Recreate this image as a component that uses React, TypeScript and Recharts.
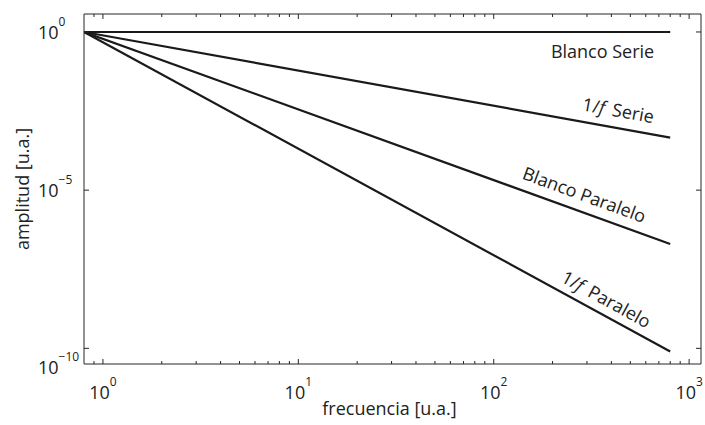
import type React from 'react';
import { LineChart, Line, XAxis, YAxis } from 'recharts';

// frequency endpoints (log-log straight lines)
const frecuencia = [0.8, 800];
const blancoSerie = [1, 1];
const unoFSerie = [1, 4.6e-4];
const blancoParalelo = [1, 2.0e-7];
const unoFParalelo = [1, 8e-11];

const seriesNames = ['Blanco Serie', '1/f Serie', 'Blanco Paralelo', '1/f Paralelo'];

const xMajorTicks = [1, 10, 100, 1000];
const xMinorTicks = [0.9, 2, 3, 4, 5, 6, 7, 8, 9, 20, 30, 40, 50, 60, 70, 80, 90, 200, 300, 400, 500, 600, 700, 800, 900];
const yTicks = [1e-10, 1e-5, 1];

const xDomain = [0.8, 1150];
const yDomain = [3.2e-11, 3.7];

const data = frecuencia.map((f, i) => ({
  f,
  bs: blancoSerie[i],
  fs: unoFSerie[i],
  bp: blancoParalelo[i],
  fp: unoFParalelo[i],
}));

const xTicks = [...xMinorTicks, ...xMajorTicks].sort((a, b) => a - b);

const FONT = "'Open Sans', sans-serif";
const FRAME = '#262626';
const LINE = '#1a1a1a';

const isMajor = (v: number) => Math.abs(Math.log10(v) - Math.round(Math.log10(v))) < 1e-9;
const expText = (v: number) => {
  const e = Math.round(Math.log10(v));
  return e < 0 ? `\u2212${-e}` : `${e}`;
};

function BottomTick({ x, y, payload }: any) {
  const v = payload.value;
  const major = isMajor(v);
  return (
    <g>
      <line x1={x} x2={x} y1={y} y2={y - (major ? 5 : 3)} stroke={FRAME} />
      {major && (
        <text x={x} y={y + 35} textAnchor='middle' fontFamily={FONT} fontSize={18} fill='#222'>
          10
          <tspan dy={-13} fontSize={12}>
            {expText(v)}
          </tspan>
        </text>
      )}
    </g>
  );
}

function TopTick({ x, y, payload }: any) {
  const major = isMajor(payload.value);
  return <line x1={x} x2={x} y1={y} y2={y + (major ? 5 : 3)} stroke={FRAME} />;
}

function LeftTick({ x, y, payload }: any) {
  const v = payload.value;
  // the lowest label sits below its tick, as in the original
  const shift = v < 1e-9 ? 19 : 0;
  return (
    <g>
      <line x1={x} x2={x + 5} y1={y} y2={y} stroke={FRAME} />
      <text x={x - 46} y={y + 7 + shift} textAnchor='start' fontFamily={FONT} fontSize={18} fill='#222'>
        10
        <tspan dy={-13} fontSize={12}>
          {expText(v)}
        </tspan>
      </text>
    </g>
  );
}

function RightTick({ x, y }: any) {
  return <line x1={x} x2={x - 5} y1={y} y2={y} stroke={FRAME} />;
}

function XLabel({ viewBox }: any) {
  const cx = viewBox.x + viewBox.width / 2 - 3;
  return (
    <text x={cx} y={viewBox.y + 51} textAnchor='middle' fontFamily={FONT} fontSize={18} fill='#222'>
      frecuencia [u.a.]
    </text>
  );
}

function YLabel({ viewBox }: any) {
  const cx = viewBox.x + viewBox.width - 62;
  const cy = viewBox.y + viewBox.height / 2;
  return (
    <text
      x={cx}
      y={cy}
      transform={`rotate(-90 ${cx} ${cy})`}
      textAnchor='middle'
      dominantBaseline='central'
      fontFamily={FONT}
      fontSize={18}
      fill='#222'
    >
      amplitud [u.a.]
    </text>
  );
}

function SeriesName({ name }: { name: string }) {
  if (name.startsWith('1/f')) {
    return (
      <>
        1/<tspan fontStyle='italic'>f</tspan>
        <tspan dx={3}>{'\u00a0' + name.slice(4)}</tspan>
      </>
    );
  }
  return <>{name}</>;
}

// offsets relative to the last point of each line
const labelPlacement = [
  { dx: -16, dy: 26, angle: 0, anchor: 'end' },
  { dx: -52, dy: -27, angle: 10.3, anchor: 'middle' },
  { dx: -86, dy: -49, angle: 20.1, anchor: 'middle' },
  { dx: -64, dy: -52, angle: 28.7, anchor: 'middle' },
];

function makeLabel(k: number) {
  return function EndLabel(props: any) {
    const { x, y, index } = props;
    if (index !== data.length - 1) return null;
    const p = labelPlacement[k];
    const cx = x + p.dx;
    const cy = y + p.dy;
    return (
      <g transform={`translate(${cx},${cy}) rotate(${p.angle})`}>
        <text
          textAnchor={p.anchor as any}
          dy={p.angle === 0 ? 0 : '0.35em'}
          fontFamily={FONT}
          fontSize={18}
          fill='#222'
        >
          <SeriesName name={seriesNames[k]} />
        </text>
      </g>
    );
  };
}

export default function App(): React.JSX.Element {
  const keys = ['bs', 'fs', 'bp', 'fp'];
  return (
    <div style={{ position: 'absolute', left: 0, top: 0, background: '#fff' }}>
      <LineChart width={705} height={425} data={data} margin={{ top: 13, right: 3, bottom: 0, left: 0 }}>
        <XAxis
          dataKey='f'
          type='number'
          scale='log'
          domain={xDomain}
          allowDataOverflow
          ticks={xTicks}
          interval={0}
          tick={<BottomTick />}
          tickLine={false}
          tickSize={0}
          tickMargin={0}
          height={61}
          axisLine={{ stroke: FRAME }}
          label={<XLabel />}
        />
        <XAxis
          xAxisId='top'
          orientation='top'
          dataKey='f'
          type='number'
          scale='log'
          domain={xDomain}
          allowDataOverflow
          ticks={xTicks}
          interval={0}
          tick={<TopTick />}
          tickLine={false}
          tickSize={0}
          tickMargin={0}
          height={1}
          axisLine={{ stroke: FRAME }}
        />
        <YAxis
          type='number'
          scale='log'
          domain={yDomain}
          allowDataOverflow
          ticks={yTicks}
          interval={0}
          tick={<LeftTick />}
          tickLine={false}
          tickSize={0}
          tickMargin={0}
          width={84}
          axisLine={{ stroke: FRAME }}
          label={<YLabel />}
        />
        <YAxis
          yAxisId='right'
          orientation='right'
          type='number'
          scale='log'
          domain={yDomain}
          allowDataOverflow
          ticks={yTicks}
          interval={0}
          tick={<RightTick />}
          tickLine={false}
          tickSize={0}
          tickMargin={0}
          width={1}
          axisLine={{ stroke: FRAME }}
        />
        {keys.map((k, i) => {
          const EndLabel = makeLabel(i);
          return (
            <Line
              key={k}
              dataKey={k}
              stroke={LINE}
              strokeWidth={2.2}
              dot={false}
              isAnimationActive={false}
              label={<EndLabel />}
            />
          );
        })}
      </LineChart>
    </div>
  );
}
